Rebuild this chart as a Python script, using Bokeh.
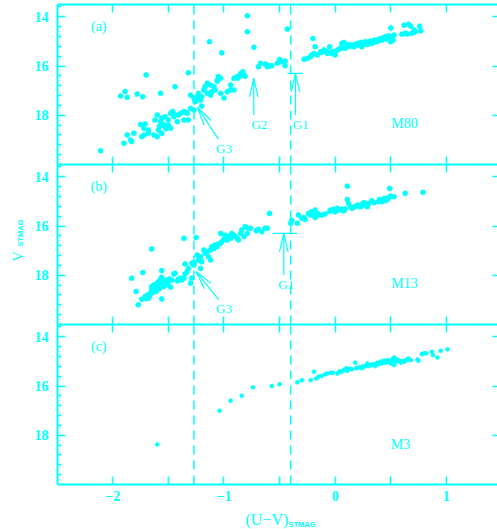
import math
from bokeh.plotting import figure
from bokeh.layouts import column, row
from bokeh.models import Range1d, LinearAxis, FixedTicker
from bokeh.embed import file_html
from bokeh.resources import INLINE
from bokeh.core.properties import value

CYAN = "#00ffff"

# ---------------- data: (U-V)_STMAG, V_STMAG ----------------
M80_LOWER = [(-2.11, 19.44), (-1.90, 19.14), (-1.87, 18.80), (-1.84, 19.00), (-1.83, 19.07), (-1.81, 18.73),
             (-1.75, 18.37), (-1.71, 18.35), (-1.72, 18.53), (-1.72, 18.80), (-1.74, 18.87), (-1.68, 18.73),
             (-1.68, 18.60), (-1.63, 18.80), (-1.60, 18.87), (-1.59, 18.60), (-1.56, 18.73), (-1.62, 18.19),
             (-1.60, 17.99), (-1.57, 18.26), (-1.54, 18.39), (-1.51, 18.46), (-1.48, 18.53), (-1.53, 18.06),
             (-1.56, 18.12), (-1.48, 17.92), (-1.45, 18.06), (-1.44, 17.99), (-1.50, 18.19), (-1.42, 18.26),
             (-1.39, 17.92), (-1.36, 17.85), (-1.36, 18.19), (-1.33, 17.92), (-1.32, 18.19), (-1.30, 17.72),
             (-1.27, 17.79), (-1.53, 18.45), (-1.50, 18.40), (-1.46, 17.85), (-1.41, 17.99), (-1.34, 17.88),
             (-1.58, 18.45), (-1.52, 18.55)]
M80_UPPER = [(-1.24, 17.38), (-1.26, 17.45), (-1.20, 17.25), (-1.27, 17.31), (-1.30, 17.18), (-1.24, 17.25),
             (-1.23, 17.11), (-1.21, 17.38), (-1.20, 17.62), (-1.18, 16.97), (-1.17, 16.84), (-1.15, 16.70),
             (-1.12, 16.77), (-1.09, 16.84), (-1.15, 17.11), (-1.12, 17.18), (-1.11, 17.04), (-1.08, 16.97),
             (-1.06, 16.57), (-1.05, 16.43), (-1.03, 17.11), (-1.00, 17.30), (-0.97, 17.04), (-0.94, 16.97),
             (-0.91, 16.97), (-0.94, 16.77), (-0.88, 16.43), (-0.85, 16.30), (-0.82, 16.37), (-1.06, 16.62),
             (-1.03, 16.50), (-0.91, 16.50), (-0.88, 16.50), (-0.85, 16.40), (-0.81, 16.41), (-0.83, 16.23)]
M80_SCATTER = [(-1.93, 17.22), (-1.89, 17.03), (-1.87, 17.27), (-1.78, 17.14), (-1.73, 17.25), (-1.57, 17.11),
               (-1.44, 16.84), (-1.70, 16.36), (-1.32, 16.27), (-1.13, 15.01), (-1.02, 15.46), (-0.79, 13.96),
               (-0.79, 14.61), (-0.73, 15.24), (-0.43, 14.50)]
M80_HB = [(-0.69, 16.03), (-0.67, 15.89), (-0.63, 15.92), (-0.61, 15.96), (-0.59, 16.00), (-0.57, 15.99),
          (-0.61, 16.03), (-0.52, 15.89), (-0.50, 15.73), (-0.48, 15.83), (-0.45, 15.80), (-0.45, 15.99)]
M80_RGB = [(-0.28, 15.72), (-0.25, 15.69), (-0.22, 15.62), (-0.21, 15.55), (-0.20, 14.88), (-0.18, 15.22),
           (-0.19, 15.49), (-0.16, 15.55), (-0.13, 15.42), (-0.10, 15.35), (-0.07, 15.49), (-0.05, 15.22),
           (-0.03, 15.42), (0.00, 15.42), (0.02, 15.35), (-0.03, 15.49), (-0.01, 15.42), (0.00, 15.55),
           (0.05, 15.28), (0.06, 15.08), (0.08, 15.04), (0.09, 15.28), (0.11, 15.22), (0.14, 15.18),
           (0.15, 15.15), (0.17, 15.22), (0.18, 15.12), (0.20, 15.08), (0.21, 15.15), (0.23, 15.04),
           (0.24, 15.22), (0.26, 15.08), (0.27, 15.01), (0.29, 15.12), (0.30, 15.04), (0.32, 14.99),
           (0.33, 15.08), (0.35, 14.95), (0.36, 15.01), (0.38, 14.99), (0.39, 14.92), (0.41, 14.88),
           (0.42, 14.95), (0.44, 14.85), (0.45, 14.81), (0.47, 14.88), (0.48, 14.77), (0.50, 15.01),
           (0.51, 14.81), (0.52, 14.95), (0.50, 14.45), (0.53, 14.74), (0.12, 15.12), (0.22, 15.10),
           (0.28, 15.06), (0.34, 15.02), (0.40, 14.96), (0.46, 14.90), (0.49, 14.85), (0.43, 14.90),
           (0.37, 14.97), (0.31, 15.00), (0.25, 15.05), (0.19, 15.15), (0.13, 15.20), (0.07, 15.25),
           (0.04, 15.30), (-0.12, 15.45), (-0.08, 15.40)]
M80_AGB = [(0.60, 14.71), (0.62, 14.34), (0.63, 14.67), (0.65, 14.70), (0.66, 14.30), (0.68, 14.38),
           (0.69, 14.67), (0.71, 14.54), (0.72, 14.61), (0.76, 14.38), (0.77, 14.57)]

M13_LOWER = [(-1.83, 18.12), (-1.79, 18.66), (-1.77, 19.20), (-1.74, 18.97), (-1.73, 17.89), (-1.71, 18.87),
             (-1.69, 18.80), (-1.68, 18.93), (-1.66, 18.73), (-1.65, 18.60), (-1.65, 18.46), (-1.63, 18.39),
             (-1.62, 18.53), (-1.61, 18.66), (-1.60, 18.32), (-1.59, 18.26), (-1.57, 18.16), (-1.56, 18.08),
             (-1.56, 17.81), (-1.56, 18.96), (-1.54, 18.46), (-1.53, 18.32), (-1.51, 18.39), (-1.50, 18.26),
             (-1.48, 18.48), (-1.47, 18.19), (-1.45, 17.95), (-1.44, 17.92), (-1.42, 18.23), (-1.41, 18.16),
             (-1.39, 18.12), (-1.38, 18.19), (-1.36, 18.12), (-1.35, 17.54), (-1.35, 17.95), (-1.33, 17.85),
             (-1.32, 17.72), (-1.30, 18.32), (-1.29, 18.12), (-1.29, 17.51), (-1.27, 17.49), (-1.27, 17.58),
             (-1.64, 18.70), (-1.62, 18.45), (-1.58, 18.55), (-1.60, 18.45), (-1.67, 18.85), (-1.70, 18.95),
             (-1.58, 18.35), (-1.55, 18.30), (-1.52, 18.20), (-1.49, 18.15), (-1.65, 16.93), (-1.36, 16.50),
             (-1.25, 16.47)]
M13_UPPER = [(-1.24, 17.18), (-1.23, 17.38), (-1.21, 17.25), (-1.21, 17.72), (-1.20, 17.45), (-1.18, 16.97),
             (-1.17, 17.11), (-1.15, 17.04), (-1.14, 17.25), (-1.12, 16.97), (-1.12, 17.38), (-1.11, 16.84),
             (-1.09, 16.91), (-1.08, 16.77), (-1.06, 16.84), (-1.05, 16.73), (-1.03, 16.70), (-1.03, 16.30),
             (-1.02, 16.64), (-1.00, 16.54), (-0.99, 16.37), (-0.97, 16.57), (-0.96, 16.43), (-0.94, 16.50),
             (-0.93, 16.30), (-0.91, 16.37), (-0.90, 16.43), (-0.88, 16.50), (-0.87, 16.57), (-0.85, 16.30),
             (-0.84, 16.16)]
M13_HB = [(-0.82, 16.43), (-0.81, 16.03), (-0.79, 16.30), (-0.78, 16.09), (-0.76, 16.09), (-0.71, 16.19),
          (-0.69, 16.13), (-0.66, 16.23), (-0.63, 16.09), (-0.61, 16.09), (-0.59, 15.49)]
M13_RGB = [(-0.39, 15.76), (-0.40, 15.89), (-0.33, 15.55), (-0.34, 15.89), (-0.30, 15.69), (-0.28, 15.65),
           (-0.27, 15.73), (-0.24, 15.49), (-0.22, 15.55), (-0.21, 15.42), (-0.19, 15.59), (-0.18, 15.35),
           (-0.16, 15.49), (-0.18, 15.65), (-0.15, 15.55), (-0.12, 15.55), (-0.09, 15.51), (-0.04, 15.35),
           (-0.01, 15.32), (0.00, 15.42), (0.02, 15.28), (0.05, 15.35), (0.06, 15.32), (0.08, 15.38),
           (0.11, 14.38), (0.11, 14.92), (0.12, 15.08), (0.14, 15.22), (0.15, 15.28), (0.18, 15.22),
           (0.20, 15.15), (0.23, 15.22), (0.24, 15.11), (0.26, 15.05), (0.27, 15.15), (0.29, 15.22),
           (0.30, 15.08), (0.33, 14.97), (0.39, 15.01), (0.41, 14.95), (0.42, 15.01), (0.44, 14.88),
           (0.45, 14.97), (0.47, 14.92), (0.48, 14.84), (0.49, 14.47), (0.50, 14.78), (0.53, 14.81),
           (0.63, 14.67), (0.79, 14.63), (-0.05, 15.40), (-0.02, 15.36), (0.01, 15.38), (0.03, 15.34),
           (0.09, 15.30), (0.16, 15.25), (0.21, 15.18), (0.28, 15.12), (0.35, 15.05), (0.40, 14.92),
           (0.46, 14.88), (0.43, 14.95)]

M3_STARS = [(-1.60, 18.37), (-1.04, 17.00), (-0.94, 16.60), (-0.84, 16.39), (-0.74, 16.05), (-0.57, 16.00),
            (-0.50, 15.93), (-0.34, 15.85), (-0.30, 15.76), (-0.22, 15.76), (-0.19, 15.42), (-0.17, 15.69),
            (-0.15, 15.62), (-0.12, 15.59), (-0.07, 15.49), (-0.04, 15.46), (-0.02, 15.46), (0.02, 15.49),
            (0.06, 15.42), (0.08, 15.35), (0.10, 15.28), (0.11, 15.38), (0.15, 15.32), (0.18, 15.05),
            (0.19, 15.28), (0.22, 15.24), (0.24, 15.28), (0.26, 15.22), (0.29, 15.08), (0.30, 15.19),
            (0.32, 15.15), (0.35, 15.11), (0.36, 15.19), (0.38, 15.05), (0.39, 15.11), (0.41, 15.01),
            (0.42, 15.08), (0.44, 14.97), (0.45, 15.05), (0.47, 14.95), (0.48, 15.01), (0.50, 15.08),
            (0.51, 14.92), (0.53, 14.84), (0.53, 15.15), (0.55, 15.01), (0.57, 14.97), (0.59, 15.05),
            (0.62, 15.01), (0.65, 14.92), (0.66, 14.88), (0.68, 14.95), (0.74, 14.92), (0.75, 14.97),
            (0.78, 14.70), (0.80, 14.67), (0.82, 14.67), (0.87, 14.61), (0.88, 14.74), (0.92, 14.84),
            (0.95, 14.57), (1.01, 14.51), (0.40, 15.05), (0.43, 15.00), (0.46, 15.02), (0.49, 14.98),
            (0.52, 14.98), (0.54, 14.95), (0.37, 15.10), (0.33, 15.13), (0.28, 15.17), (0.25, 15.20),
            (0.20, 15.25), (0.13, 15.30), (0.04, 15.40), (-0.09, 15.52), (0.56, 14.92), (0.60, 14.98),
            (0.63, 14.97)]

# ---------------- axes / annotation values ----------------
X_START, X_END = -2.497, 1.46
Y_FAINT, Y_BRIGHT = 20.0, 13.5
X_MAJOR = [-2, -1, 0, 1]
X_MINOR = [-1.5, -0.5, 0.5]
X_TICK_LABELS = {-2: "\u22122", -1: "\u22121", 0: "0", 1: "1"}
Y_MAJOR = [14, 16, 18]
Y_MINOR = [13.6, 14.4, 14.8, 15.2, 15.6, 16.4, 16.8, 17.2, 17.6, 18.4, 18.8, 19.2, 19.6]
Y_TICK_LABELS = {14: "14", 16: "16", 18: "18"}
GAP_COLORS = [-1.27, -0.40]

PANEL_TAGS = ["(a)", "(b)", "(c)"]
TAG_POS = (-2.126, 14.38)
CLUSTER_NAMES = ["M80", "M13", "M3"]
CLUSTER_POS = [(0.623, 18.35), (0.623, 18.35), (0.587, 18.37)]

# arrows: (label, label_xy, tail, tip, bar)
ARROWS_A = [("G3", (-1.00, 19.37), (-1.05, 18.97), (-1.238, 17.68), None),
            ("G2", (-0.681, 18.37), (-0.732, 17.99), (-0.732, 16.50), None),
            ("G1", (-0.31, 18.37), (-0.357, 17.99), (-0.357, 16.30), (-0.43, -0.29))]
ARROWS_B = [("G3", (-1.00, 19.37), (-1.047, 19.00), (-1.25, 17.85), None),
            ("G1", (-0.44, 18.37), (-0.462, 17.99), (-0.462, 16.30), (-0.561, -0.342))]

# layout (pixels)
PAGE_W, PAGE_H = 497, 529
STRIP_W = 31
W = PAGE_W - STRIP_W
LEFT = 57 - STRIP_W
FRAME_W = W - LEFT
FRAME_H = 160
XLAB_H = 24
SX = FRAME_W / (X_END - X_START)
SY = FRAME_H / (Y_FAINT - Y_BRIGHT)
HEAD_LEN = 19
HEAD_HALF = math.radians(13)

SERIF = "Liberation Serif"
SANS = "Liberation Sans"


def style_axis(ax, major_len, minor_len, labels=None, line=True, standoff=8):
    ax.axis_line_color = CYAN if line else None
    ax.axis_line_width = 2
    ax.major_tick_line_color = CYAN
    ax.minor_tick_line_color = CYAN
    ax.major_tick_line_width = 1.5
    ax.minor_tick_line_width = 1.5
    ax.major_tick_in = major_len
    ax.major_tick_out = 0
    ax.minor_tick_in = minor_len
    ax.minor_tick_out = 0
    if labels:
        ax.major_label_overrides = labels
        ax.major_label_text_color = CYAN
        ax.major_label_text_font = SERIF
        ax.major_label_text_font_size = "14px"
        ax.major_label_text_font_style = "bold"
        ax.major_label_standoff = standoff
    else:
        ax.major_label_text_color = None
        ax.major_label_text_font_size = "0px"
        ax.major_label_standoff = 0


def make_panel(height, min_top, min_bottom, x_labels):
    p = figure(width=W, height=height, x_range=Range1d(X_START, X_END),
               y_range=Range1d(Y_FAINT, Y_BRIGHT), output_backend="svg", toolbar_location=None,
               x_axis_location=None, y_axis_location=None,
               min_border_left=LEFT, min_border_right=0, min_border_top=min_top,
               min_border_bottom=min_bottom, outline_line_color=None,
               background_fill_color="white", border_fill_color="white")
    p.grid.grid_line_color = None

    left = LinearAxis(ticker=FixedTicker(ticks=Y_MAJOR, minor_ticks=Y_MINOR))
    style_axis(left, 8, 4, labels=Y_TICK_LABELS, standoff=9)
    p.add_layout(left, "left")

    right = LinearAxis(ticker=FixedTicker(ticks=Y_MAJOR, minor_ticks=[]))
    style_axis(right, 5, 0, line=False)
    p.add_layout(right, "right")

    top = LinearAxis(ticker=FixedTicker(ticks=X_MAJOR, minor_ticks=X_MINOR))
    style_axis(top, 8, 8)
    p.add_layout(top, "above")

    bottom = LinearAxis(ticker=FixedTicker(ticks=X_MAJOR, minor_ticks=X_MINOR))
    style_axis(bottom, 8, 8, labels=X_TICK_LABELS if x_labels else None, standoff=6)
    p.add_layout(bottom, "below")

    # dashed vertical lines at the colour gaps
    p.segment(x0=GAP_COLORS, y0=[Y_FAINT] * len(GAP_COLORS), x1=GAP_COLORS,
              y1=[Y_BRIGHT] * len(GAP_COLORS), line_color=CYAN, line_width=1.5, line_dash="9 6")
    return p


def plain_canvas(width, height, x0, x1, y0, y1):
    """A frameless figure whose data space is page pixels, used for the axis titles."""
    p = figure(width=width, height=height, x_range=Range1d(x0, x1), y_range=Range1d(y1, y0),
               output_backend="svg", toolbar_location=None, x_axis_location=None,
               y_axis_location=None, min_border=0, min_border_left=0, min_border_right=0,
               min_border_top=0, min_border_bottom=0, outline_line_color=None,
               background_fill_color="white", border_fill_color="white")
    p.grid.grid_line_color = None
    return p


def add_stars(p, groups, size):
    xs = [s[0] for g in groups for s in g]
    ys = [s[1] for g in groups for s in g]
    p.scatter(xs, ys, size=size, marker="circle", fill_color=CYAN, line_color=CYAN, line_width=0.6)


def add_text(p, xs, ys, texts, size="14px"):
    p.text(x=xs, y=ys, text=texts, text_font=value(SERIF), text_font_size=size,
           text_color=CYAN, text_align="center", text_baseline="middle")


def head(tail, tip):
    dx = (tail[0] - tip[0]) * SX
    dy = (tail[1] - tip[1]) * SY
    L = math.hypot(dx, dy)
    ux, uy = dx / L, dy / L
    ends = []
    for s in (1, -1):
        c, sn = math.cos(s * HEAD_HALF), math.sin(s * HEAD_HALF)
        wx = ux * c - uy * sn
        wy = ux * sn + uy * c
        ends.append((tip[0] + wx * HEAD_LEN / SX, tip[1] + wy * HEAD_LEN / SY))
    return ends


def add_arrows(p, arrows):
    x0, y0, x1, y1 = [], [], [], []
    for name, lab, tail, tip, bar in arrows:
        x0.append(tail[0]); y0.append(tail[1]); x1.append(tip[0]); y1.append(tip[1])
        for e in head(tail, tip):
            x0.append(tip[0]); y0.append(tip[1]); x1.append(e[0]); y1.append(e[1])
        if bar:
            x0.append(bar[0]); y0.append(tip[1]); x1.append(bar[1]); y1.append(tip[1])
    p.segment(x0=x0, y0=y0, x1=x1, y1=y1, line_color=CYAN, line_width=1.2)
    add_text(p, [a[1][0] for a in arrows], [a[1][1] for a in arrows], [a[0] for a in arrows], "13px")


fa = make_panel(164, 4, 0, False)
fb = make_panel(160, 0, 0, False)
fc = make_panel(PAGE_H - XLAB_H - 324, 0, PAGE_H - XLAB_H - 484, True)

add_stars(fa, [M80_LOWER, M80_UPPER, M80_SCATTER, M80_HB, M80_RGB, M80_AGB], 5)
add_stars(fb, [M13_LOWER, M13_UPPER, M13_HB, M13_RGB], 5)
add_stars(fc, [M3_STARS], 4)

for p, tag, name, pos in zip([fa, fb, fc], PANEL_TAGS, CLUSTER_NAMES, CLUSTER_POS):
    add_text(p, [TAG_POS[0]], [TAG_POS[1]], [tag])
    add_text(p, [pos[0]], [pos[1]], [name])

add_arrows(fa, ARROWS_A)
add_arrows(fb, ARROWS_B)

# ---- axis titles, drawn in small frameless figures (page-pixel coordinates) ----
ylab = plain_canvas(STRIP_W, PAGE_H - XLAB_H, 0, STRIP_W, 0, PAGE_H - XLAB_H)
ylab.text(x=[18.3], y=[261], text=["V"], angle=math.pi / 2, text_font=value(SERIF),
          text_font_size="14px", text_color=CYAN, text_align="left", text_baseline="alphabetic")
ylab.text(x=[19.5], y=[246], text=["STMAG"], angle=math.pi / 2, text_font=value(SANS),
          text_font_size="7.5px", text_font_style="bold", text_color=CYAN,
          text_align="left", text_baseline="alphabetic")

xlab = plain_canvas(PAGE_W, XLAB_H, 0, PAGE_W, PAGE_H - XLAB_H, PAGE_H)
xlab.text(x=[245], y=[519], text=["(U\u2212V)"], text_font=value(SERIF), text_font_size="16px",
          text_color=CYAN, text_align="left", text_baseline="alphabetic")
xlab.text(x=[288], y=[524], text=["STMAG"], text_font=value(SANS), text_font_size="7.5px",
          text_font_style="bold", text_color=CYAN, text_align="left", text_baseline="alphabetic")

layout = column(row(ylab, column(fa, fb, fc, spacing=0), spacing=0), xlab, spacing=0)
open("out.html", "w").write(file_html(layout, INLINE))
